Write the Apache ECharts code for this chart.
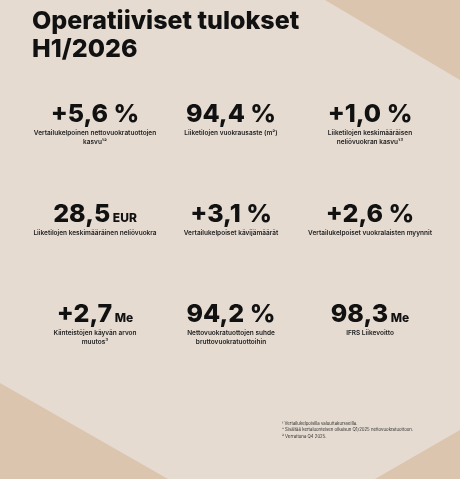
<!DOCTYPE html>
<html><head><meta charset="utf-8">
<script src="https://cdn.jsdelivr.net/npm/echarts@6/dist/echarts.min.js"></script>
<style>html,body{margin:0;padding:0;background:#e5dbd1}#c{width:460px;height:479px}</style>
</head><body><div id="c"></div>
<script>
// tunnusluvut
var numbers = ['+5,6', '94,4', '+1,0', '28,5', '+3,1', '+2,6', '+2,7', '94,2', '98,3'];
var units = ['%', '%', '%', 'EUR', '%', '%', 'Me', '%', 'Me'];
var captions = [
	'Vertailukelpoinen nettovuokratuottojen\nkasvu¹²',
	'Liiketilojen vuokrausaste (m²)',
	'Liiketilojen keskimääräisen\nneliövuokran kasvu¹³',
	'Liiketilojen keskimääräinen neliövuokra',
	'Vertailukelpoiset kävijämäärät',
	'Vertailukelpoiset vuokralaisten myynnit',
	'Kiinteistöjen käyvän arvon\nmuutos³',
	'Nettovuokratuottojen suhde\nbruttovuokratuottoihin',
	'IFRS Liikevoitto'
];
var notes = [
	'¹ Vertailukelpoisilla valuuttakursseilla.',
	'² Sisältää kertaluonteisen oikaisun Q1/2025 nettovuokratuottoon.',
	'³ Verrattuna Q4 2025.'
];

var colX = [95, 231, 370];
var rowY = [114, 214, 314];
var font = 'Inter, "Liberation Sans", sans-serif';

var elements = [
	{ type: 'polygon', shape: { points: [[325, 0], [460, 0], [460, 80]] }, style: { fill: '#dcc5ae' } },
	{ type: 'polygon', shape: { points: [[0, 383], [168, 479], [0, 479]] }, style: { fill: '#dcc5ae' } },
	{ type: 'polygon', shape: { points: [[460, 430], [375, 479], [460, 479]] }, style: { fill: '#dcc5ae' } },
	{ type: 'text', left: 32, top: 7, style: { text: 'Operatiiviset tulokset\nH1/2026', fill: '#111', font: '800 25px ' + font, lineHeight: 28 } }
];

numbers.forEach(function (n, i) {
	var x = colX[i % 3], y = rowY[Math.floor(i / 3)];
	var big = units[i] == '%';
	elements.push({
		type: 'text', x: x, y: y,
		style: {
			text: '{n|' + n + '}' + (big ? '{n| ' + units[i] + '}' : '{u| ' + units[i] + '}'),
			rich: {
				n: { font: '800 25px ' + font, fill: '#111' },
				u: { font: '800 12px ' + font, fill: '#111', verticalAlign: 'bottom', padding: [0, 0, 2, 0] }
			},
			align: 'center', verticalAlign: 'middle'
		}
	});
	elements.push({
		type: 'text', x: x, y: y + 15,
		style: { text: captions[i], font: '600 6.5px ' + font, fill: '#222', align: 'center', verticalAlign: 'top', lineHeight: 9 }
	});
});

elements.push({
	type: 'text', x: 282, y: 420,
	style: { text: notes.join('\n'), font: '4.3px ' + font, fill: '#333', lineHeight: 6.5 }
});

var chart = echarts.init(document.getElementById('c'));
chart.setOption({ backgroundColor: '#e5dbd1', graphic: { elements: elements } });
</script></body></html>
